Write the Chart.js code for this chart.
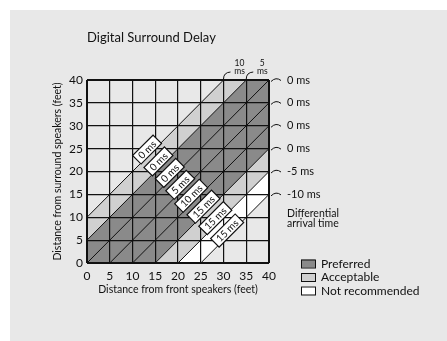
<!DOCTYPE html>
<html>
<head>
<meta charset="utf-8">
<script src="https://cdn.jsdelivr.net/npm/chart.js@4.4.1/dist/chart.umd.min.js"></script>
<style>
  html, body { margin: 0; padding: 0; background: #fff; }
  #wrap { position: absolute; left: 0; top: 0; width: 447px; height: 341px; }
</style>
</head>
<body>
<div id="wrap"><canvas id="chart" width="447" height="341"></canvas></div>
<script>
// ---- chart data ----
const axisTicks = [0, 5, 10, 15, 20, 25, 30, 35, 40];
// diagonal lines: surround distance = front distance + offset (feet)
const diagonalOffsets = [10, 5, 0, -5, -10, -15, -20, -25];
// shaded bands between two diagonals
const bandUpper = [10, 5, -15, -20];
const bandLower = [5, -15, -20, -25];
const bandClass = ['Acceptable', 'Preferred', 'Acceptable', 'Not recommended'];
// boxed delay settings sitting on the diagonals
const delayLabels = ['0 ms', '0 ms', '0 ms', '5 ms', '10 ms', '15 ms', '15 ms', '15 ms'];
const delayLabelX = [13.2, 15.7, 18.2, 20.5, 22.9, 25.6, 28.2, 30.8];
const delayLabelY = [24.8, 22.2, 19.7, 17.1, 14.7, 12.3, 9.8, 7.1];
// differential arrival time, right edge
const rowDelayY = [40, 35, 30, 25, 20, 15];
const rowDelayText = ['0 ms', '0 ms', '0 ms', '0 ms', '-5 ms', '-10 ms'];
// top edge
const colDelayX = [30, 35];
const colDelayText = ['10', '5'];
const legendItems = ['Preferred', 'Acceptable', 'Not recommended'];

const classColors = {
  'Preferred': '#8a8a8a',
  'Acceptable': '#d0d0d0',
  'Not recommended': '#ffffff'
};
const PANEL = '#e8e8e8';
const INK = '#111111';
const FONT = 'Lato, "Open Sans", sans-serif';

// ---- drawing helpers ----
const delayPlugin = {
  id: 'delayChart',
  beforeDraw(chart) {
    const { ctx, chartArea: a, scales: { x, y } } = chart;
    ctx.save();
    ctx.fillStyle = '#ffffff';
    ctx.fillRect(0, 0, chart.width, chart.height);
    ctx.fillStyle = PANEL;
    ctx.fillRect(10, 10, chart.width - 10, chart.height - 10);

    ctx.beginPath();
    ctx.rect(a.left, a.top, a.width, a.height);
    ctx.clip();
    bandUpper.forEach((hi, i) => {
      const lo = bandLower[i];
      ctx.beginPath();
      ctx.moveTo(x.getPixelForValue(-10), y.getPixelForValue(-10 + hi));
      ctx.lineTo(x.getPixelForValue(50), y.getPixelForValue(50 + hi));
      ctx.lineTo(x.getPixelForValue(50), y.getPixelForValue(50 + lo));
      ctx.lineTo(x.getPixelForValue(-10), y.getPixelForValue(-10 + lo));
      ctx.closePath();
      ctx.fillStyle = classColors[bandClass[i]];
      ctx.fill();
    });
    ctx.restore();
  },
  afterDraw(chart) {
    const { ctx, chartArea: a, scales: { x, y } } = chart;
    ctx.save();
    ctx.fillStyle = INK;
    ctx.strokeStyle = INK;

    // title
    ctx.font = '13px ' + FONT;
    ctx.textAlign = 'left';
    ctx.textBaseline = 'middle';
    ctx.fillText('Digital Surround Delay', a.left, 38);

    // boxed labels on the diagonals
    ctx.font = '10px ' + FONT;
    delayLabels.forEach((t, i) => {
      const px = x.getPixelForValue(delayLabelX[i]);
      const py = y.getPixelForValue(delayLabelY[i]);
      const w = ctx.measureText(t).width + 8;
      ctx.save();
      ctx.translate(px, py);
      ctx.rotate(-Math.PI / 4);
      ctx.fillStyle = '#ffffff';
      ctx.fillRect(-w / 2, -6, w, 12);
      ctx.lineWidth = 1.2;
      ctx.strokeRect(-w / 2, -6, w, 12);
      ctx.fillStyle = INK;
      ctx.textAlign = 'center';
      ctx.textBaseline = 'middle';
      ctx.fillText(t, 0, 0.5);
      ctx.restore();
    });

    // right edge: arrival time per row
    ctx.font = '11px ' + FONT;
    ctx.lineWidth = 1;
    rowDelayY.forEach((v, i) => {
      const py = y.getPixelForValue(v);
      ctx.beginPath();
      ctx.moveTo(a.right + 2, py + 1.5);
      ctx.quadraticCurveTo(a.right + 7, py - 3.5, a.right + 12, py + 0.5);
      ctx.stroke();
      ctx.textAlign = 'left';
      ctx.textBaseline = 'middle';
      ctx.fillText(rowDelayText[i], a.right + 18, py);
    });
    ctx.font = '10.5px ' + FONT;
    const py15 = y.getPixelForValue(15);
    ctx.fillText('Differential', a.right + 18, py15 + 19);
    ctx.fillText('arrival time', a.right + 18, py15 + 29);

    // top edge: delay per column
    ctx.font = '8.5px ' + FONT;
    colDelayX.forEach((v, i) => {
      const px = x.getPixelForValue(v);
      ctx.beginPath();
      ctx.moveTo(px, a.top - 1);
      ctx.quadraticCurveTo(px, a.top - 7.5, px + 7, a.top - 8);
      ctx.stroke();
      ctx.textAlign = 'center';
      ctx.textBaseline = 'middle';
      ctx.fillText('ms', px + 16, a.top - 8.5);
      ctx.fillText(colDelayText[i], px + 16, a.top - 17);
    });

    // legend
    ctx.font = '12px ' + FONT;
    legendItems.forEach((t, i) => {
      const top = a.bottom - 3.5 + i * 13.5;
      ctx.fillStyle = classColors[t];
      ctx.fillRect(a.right + 32, top, 14, 8);
      ctx.strokeRect(a.right + 32.5, top + 0.5, 14, 8);
      ctx.fillStyle = INK;
      ctx.textAlign = 'left';
      ctx.textBaseline = 'middle';
      ctx.fillText(t, a.right + 52, top + 4.5);
    });
    ctx.restore();
  }
};

function edgeWidth(c) {
  return (c.tick.value === 0 || c.tick.value === 40) ? 2 : 1.2;
}

const chart = new Chart(document.getElementById('chart'), {
  type: 'scatter',
  data: {
    datasets: diagonalOffsets.map(c => ({
      data: [
        { x: Math.max(0, -c), y: Math.max(0, c) },
        { x: Math.min(40, 40 - c), y: Math.min(40, 40 + c) }
      ],
      showLine: true,
      borderColor: INK,
      borderWidth: 1,
      pointRadius: 0
    }))
  },
  options: {
    responsive: false,
    animation: false,
    devicePixelRatio: 1,
    layout: { padding: { left: 44, top: 80, right: 178, bottom: 40 } },
    plugins: { legend: { display: false }, tooltip: { enabled: false } },
    scales: {
      x: {
        type: 'linear', min: 0, max: 40,
        afterBuildTicks: s => { s.ticks = axisTicks.map(v => ({ value: v })); },
        afterFit: s => { s.height = 38; },
        grid: { color: INK, lineWidth: edgeWidth, drawTicks: false },
        border: { display: false },
        ticks: { font: { family: FONT, size: 12 }, color: INK, padding: 6, maxRotation: 0 },
        title: {
          display: true, text: 'Distance from front speakers (feet)',
          font: { family: FONT, size: 10.5 }, color: INK, padding: { top: 2, bottom: 5 }
        }
      },
      y: {
        type: 'linear', min: 0, max: 40,
        afterBuildTicks: s => { s.ticks = axisTicks.map(v => ({ value: v })); },
        afterFit: s => { s.width = 43; },
        grid: { color: INK, lineWidth: edgeWidth, drawTicks: false },
        border: { display: false },
        ticks: { font: { family: FONT, size: 12 }, color: INK, padding: 4 },
        title: {
          display: true, text: 'Distance from surround speakers (feet)',
          font: { family: FONT, size: 10.5 }, color: INK, padding: { top: 7, bottom: 2 }
        }
      }
    }
  },
  plugins: [delayPlugin]
});
</script>
</body>
</html>
